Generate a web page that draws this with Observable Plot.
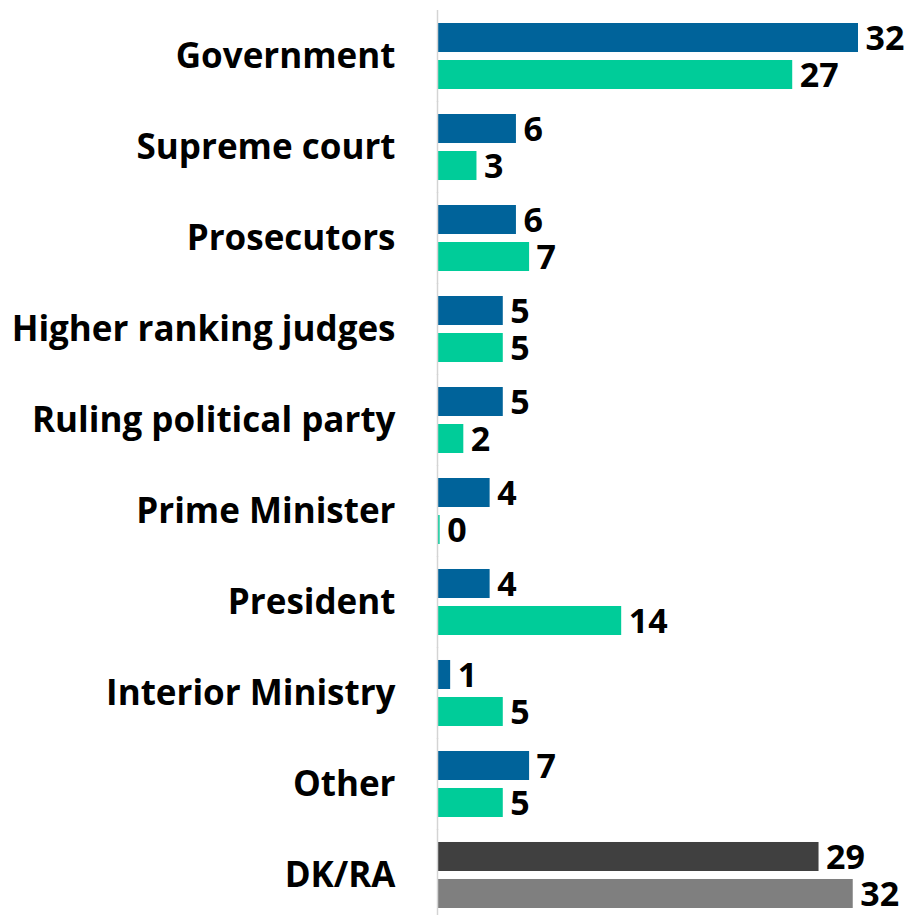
<!DOCTYPE html>
<html>
<head>
<meta charset="utf-8">
<script src="https://cdn.jsdelivr.net/npm/d3@7"></script>
<script src="https://cdn.jsdelivr.net/npm/@observablehq/plot@0.6"></script>
<style>
  html, body { margin: 0; padding: 0; background: #fff; }
</style>
</head>
<body>
<div id="chart"></div>
<script>
const categories = ["Government", "Supreme court", "Prosecutors", "Higher ranking judges", "Ruling political party", "Prime Minister", "President", "Interior Ministry", "Other", "DK/RA"];
const seriesA = [32, 6, 6, 5, 5, 4, 4, 1, 7, 29];
const seriesB = [27, 3, 7, 5, 2, 0.2, 14, 5, 5, 31.6];
const labelsA = ["32", "6", "6", "5", "5", "4", "4", "1", "7", "29"];
const labelsB = ["27", "3", "7", "5", "2", "0", "14", "5", "5", "32"];

const colors = {a: "#00639a", b: "#00cc99"};
const grays = {a: "#404040", b: "#7f7f7f"};

const data = [];
categories.forEach((c, i) => {
  data.push({cat: c, s: "a", v: seriesA[i], label: labelsA[i]});
  data.push({cat: c, s: "b", v: seriesB[i], label: labelsB[i]});
});
const fillOf = d => (d.cat === "DK/RA" ? grays : colors)[d.s];

const chart = Plot.plot({
  width: 917,
  height: 915,
  marginLeft: 437,
  marginRight: 59,
  marginTop: 16,
  marginBottom: 0,
  style: {fontFamily: "'Open Sans', Lato, sans-serif", fontWeight: "bold", fontSize: "35px", color: "#000", background: "#fff"},
  facet: {data, y: "cat"},
  fy: {domain: categories, round: false, paddingInner: 0.2747, paddingOuter: 0.077, label: null, tickSize: 0, tickPadding: 42, axis: "left"},
  y: {domain: ["a", "b"], round: false, paddingInner: 0.2162, paddingOuter: 0, axis: null},
  x: {domain: [0, d3.max(seriesA)], axis: null},
  marks: [
    Plot.barX(data, {x: "v", y: "s", fill: fillOf}),
    Plot.text(data, {x: "v", y: "s", text: "label", dx: 7, dy: 1, textAnchor: "start", fontWeight: "bold", fontSize: 34, fill: "#000"}),
    Plot.ruleX([0], {stroke: "#d4d4d4", strokeWidth: 1.5, insetTop: -13, insetBottom: -13})
  ]
});
document.getElementById("chart").appendChild(chart);
</script>
</body>
</html>
